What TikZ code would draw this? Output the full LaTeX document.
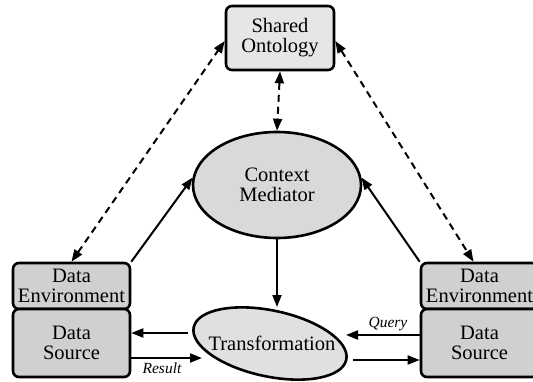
\documentclass[tikz,border=0pt]{standalone}
\usepackage{fontspec}
\setmainfont{Liberation Serif}
\usetikzlibrary{shapes.geometric,arrows.meta}
\definecolor{ontofill}{HTML}{E6E6E6}
\definecolor{medfill}{HTML}{D9D9D9}
\definecolor{srcfill}{HTML}{D0D0D0}
\definecolor{trfill}{HTML}{E0E0E0}
\begin{document}
\begin{tikzpicture}[x=1pt,y=1pt,
  bigtext/.style={font=\fontsize{20.5}{20}\selectfont, align=center},
  box/.style={bigtext, draw, line width=2.6pt, rounded corners=6pt, inner sep=0pt},
  oval/.style={bigtext, draw, line width=2.6pt, ellipse, inner sep=0pt},
  link/.style={line width=2pt, -{Triangle[length=12pt,width=9pt]}},
  dlink/.style={line width=2pt, dash pattern=on 7pt off 5pt,
    {Triangle[length=12pt,width=9pt]}-{Triangle[length=12pt,width=9pt]}},
  tag/.style={font=\fontsize{15.5}{15.5}\selectfont\itshape, anchor=base}
]
\useasboundingbox (0,0) rectangle (533,381);

% nodes
\node[box, fill=ontofill, minimum width=108, minimum height=64] (so) at (280,343) {Shared\\Ontology};
\node[oval, fill=medfill, minimum width=168, minimum height=106] (cm) at (277,196) {Context\\Mediator};

\node[box, fill=srcfill, minimum width=117, minimum height=46] (de1) at (71.5,95) {Data\\Environment};
\node[box, fill=srcfill, minimum width=117, minimum height=68] (ds1) at (71.5,38) {Data\\Source};
\node[box, fill=srcfill, minimum width=117, minimum height=46] (de2) at (479.5,95) {Data\\Environment};
\node[box, fill=srcfill, minimum width=117, minimum height=68] (ds2) at (479.5,38) {Data\\Source};

\node[oval, fill=trfill, rotate=-12, minimum width=156, minimum height=66] (tr) at (270,37.5) {};
\node[bigtext] (trlabel) at (272,38) {Transformation};

% end points on the transformation ellipse
\coordinate (trtop) at (277,74);
\coordinate (trinL) at (202,23);
\coordinate (troutL) at (188,48);
\coordinate (trinR) at (346,46);
\coordinate (troutR) at (353,21);

% links to the shared ontology
\draw[dlink] (de1.north) -- ([yshift=-3pt]so.west);
\draw[dlink] ([yshift=-3pt]so.east) -- ([xshift=-6pt]de2.north);
\draw[dlink] (so.south) -- (cm.north);

% links to the context mediator
\draw[link] (de1.north east) -- (cm.175);
\draw[link] (de2.north west) -- (cm.5);
\draw[link] (cm.south) -- (trtop);

% query and result flow
\draw[link] (troutL) -- (ds1.east |- troutL);
\draw[link] (ds1.east |- trinL) -- (trinL);
\draw[link] (ds2.west |- trinR) -- (trinR);
\draw[link] (troutR) -- (ds2.west |- troutR);

\node[tag] (qlabel) at (388,54) {Query};
\node[tag] (rlabel) at (162,8) {Result};
\end{tikzpicture}
\end{document}
